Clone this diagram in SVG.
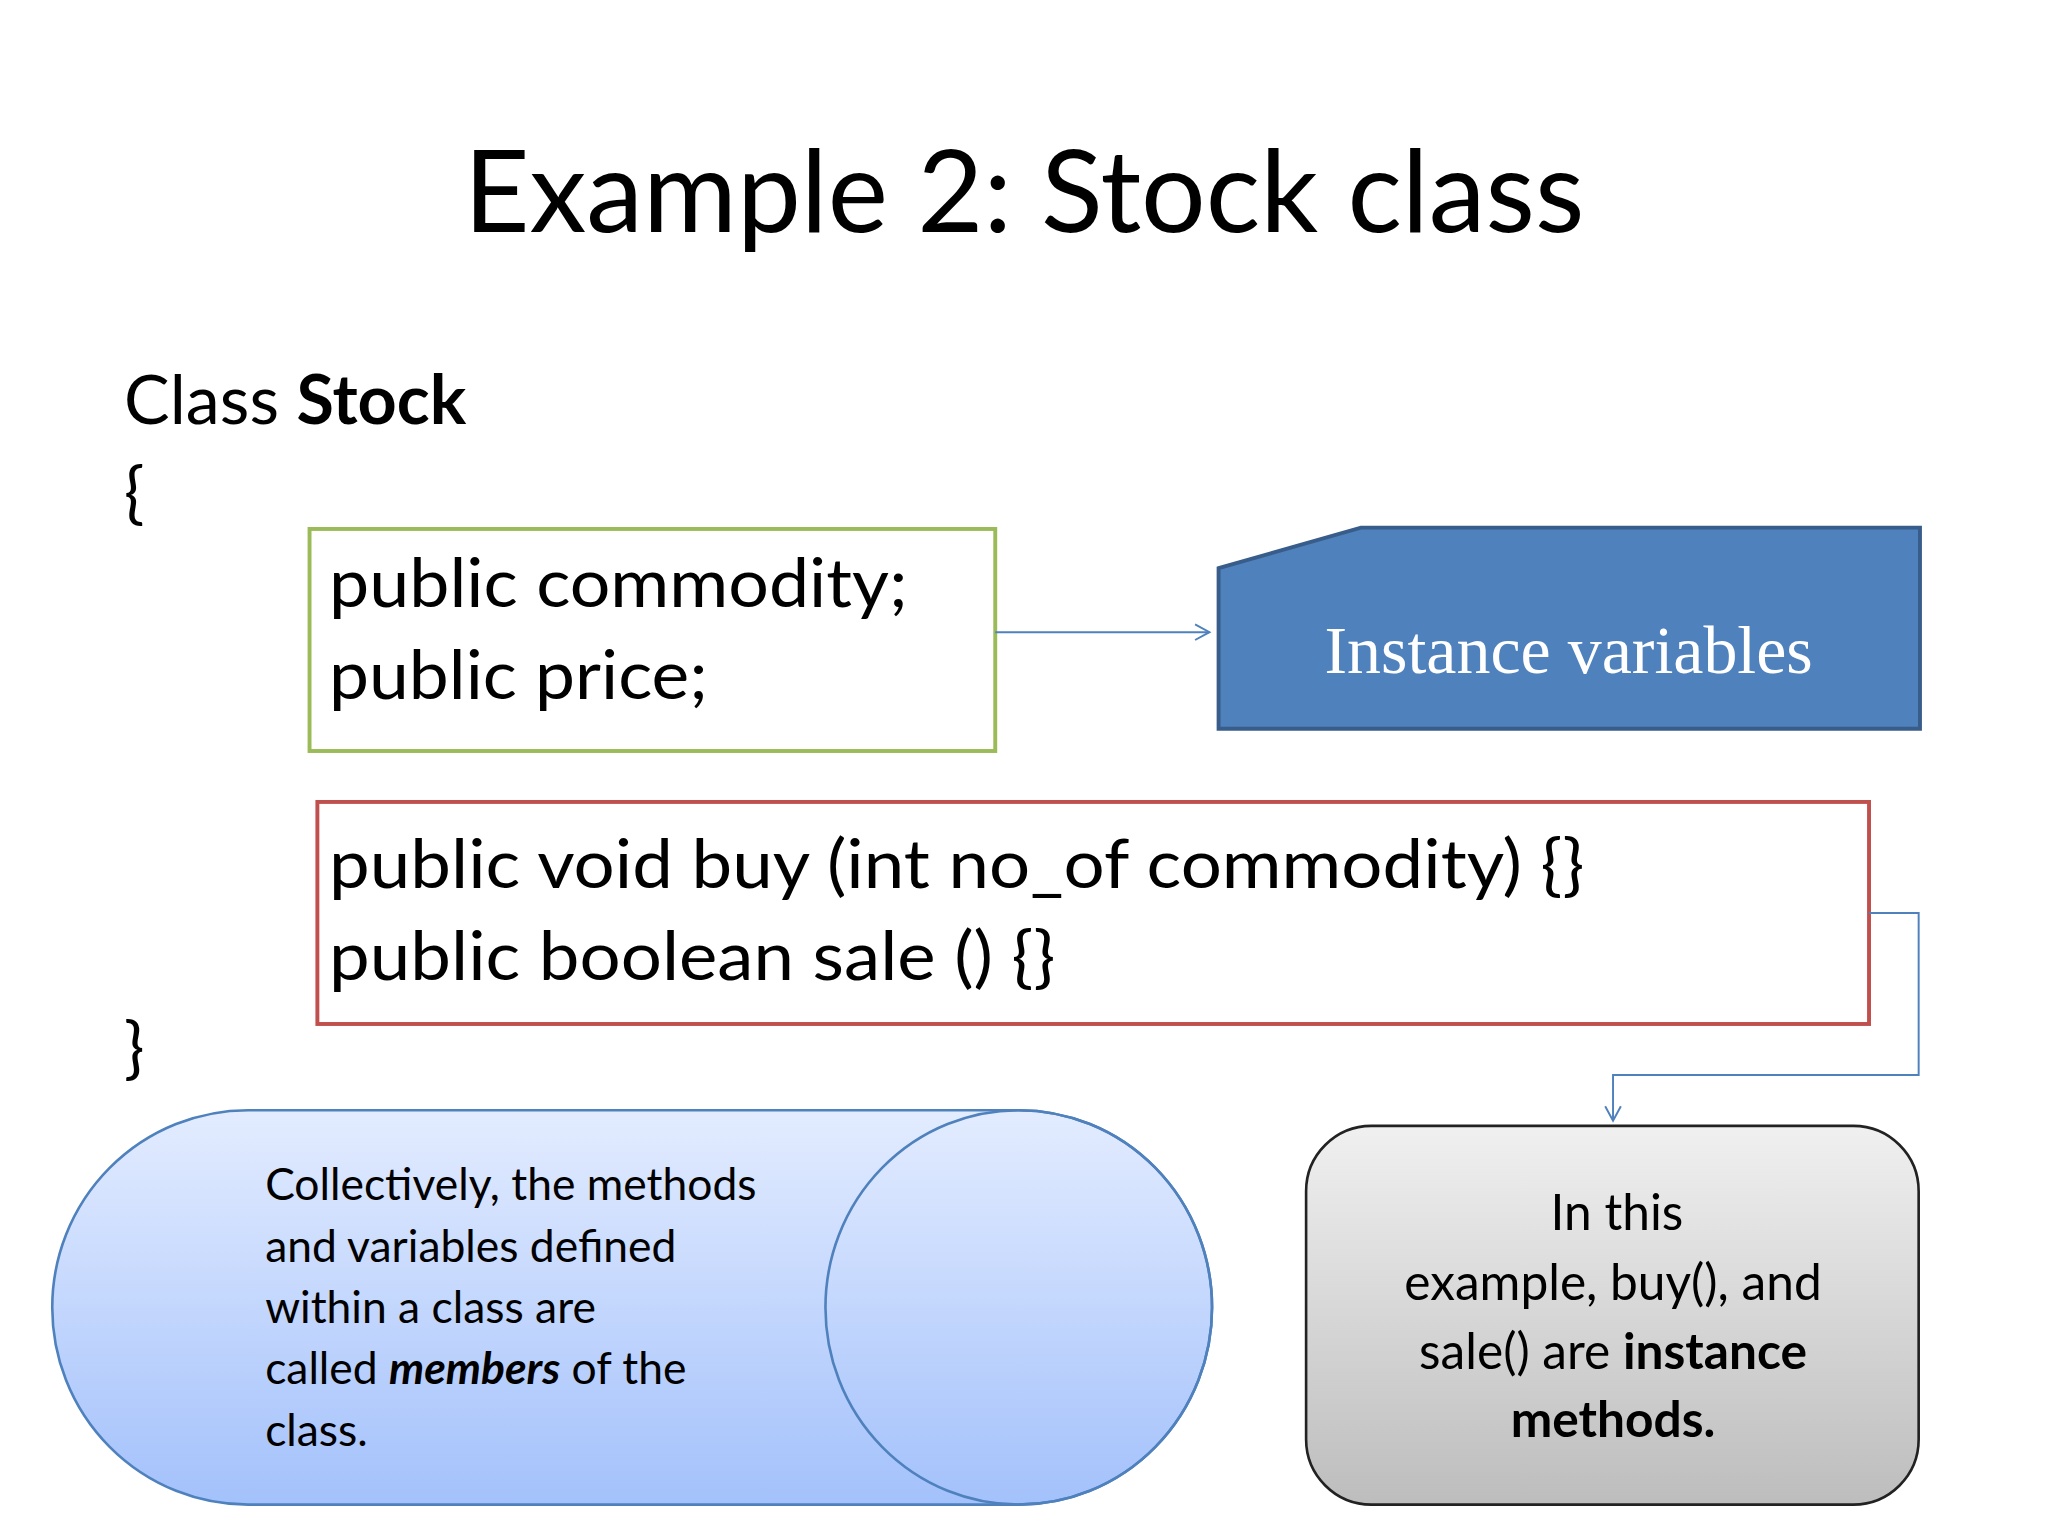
<svg xmlns="http://www.w3.org/2000/svg" width="2048" height="1536" viewBox="0 0 2048 1536">
<defs>
<style>
.t{font-family:Lato,"Open Sans","Liberation Sans",sans-serif;fill:#000}
.code{font-size:52px}
.note{font-size:34px}
.gn{font-size:38px}
</style>
<marker id="ah" markerWidth="14" markerHeight="14" refX="12" refY="7" orient="auto" markerUnits="userSpaceOnUse"><path d="M1,1 L12,7 L1,13" fill="none" stroke="#4F81BD" stroke-width="1.5"/></marker>
<linearGradient id="blueg" x1="0" y1="0" x2="0" y2="1"><stop offset="0" stop-color="#E3ECFF"/><stop offset="1" stop-color="#A3C1FB"/></linearGradient>
<linearGradient id="grayg" x1="0" y1="0" x2="0" y2="1"><stop offset="0" stop-color="#F0F0F0"/><stop offset="1" stop-color="#BDBDBD"/></linearGradient>
</defs>
<rect width="2048" height="1536" fill="#fff"/>
<g transform="scale(1.3061)">
<g id="title"><text class="t" x="355" y="178" font-size="88" textLength="858" lengthAdjust="spacingAndGlyphs">Example 2: Stock class</text></g>
<g id="classdecl">
<text class="t code" x="95" y="325" textLength="262" lengthAdjust="spacingAndGlyphs">Class <tspan font-weight="bold">Stock</tspan></text>
<text class="t code" x="95" y="395">{</text>
<text class="t code" x="95" y="820">}</text>
</g>
<g id="vars">
<rect x="237" y="405" width="525" height="170" fill="#fff" stroke="#9BBB59" stroke-width="3"/>
<text class="t code" x="252" y="465" textLength="443" lengthAdjust="spacingAndGlyphs">public commodity;</text>
<text class="t code" x="252" y="535" textLength="290" lengthAdjust="spacingAndGlyphs">public price;</text>
</g>
<g id="instvars">
<path d="M933,435 L1042,404 L1470,404 L1470,558 L933,558 Z" fill="#4F81BD" stroke="#385D8A" stroke-width="3"/>
<text x="1201" y="515" text-anchor="middle" font-family="'Liberation Serif',serif" font-size="52" fill="#fff">Instance variables</text>
</g>
<g id="methods">
<rect x="243" y="614" width="1188" height="170" fill="#fff" stroke="#C0504D" stroke-width="3"/>
<text class="t code" x="252" y="680" textLength="961" lengthAdjust="spacingAndGlyphs">public void buy (int no_of commodity) {}</text>
<text class="t code" x="252" y="750" textLength="556" lengthAdjust="spacingAndGlyphs">public boolean sale () {}</text>
</g>
<g id="members">
<path d="M780,850 L190,850 A150,151 0 0 0 190,1152 L780,1152 A148,151 0 0 0 780,850 Z" fill="url(#blueg)" stroke="#4F81BD" stroke-width="2"/>
<ellipse cx="780" cy="1001" rx="148" ry="151" fill="none" stroke="#4F81BD" stroke-width="2"/>
<text class="t note" x="203" y="919">Collectively, the methods</text>
<text class="t note" x="203" y="966">and variables defined</text>
<text class="t note" x="203" y="1013">within a class are</text>
<text class="t note" x="203" y="1060">called <tspan font-weight="bold" font-style="italic">members</tspan> of the</text>
<text class="t note" x="203" y="1107">class.</text>
</g>
<g id="instmethods">
<rect x="1000" y="862" width="469" height="290" rx="50" fill="url(#grayg)" stroke="#222" stroke-width="2"/>
<text class="t gn" x="1238" y="942" text-anchor="middle">In this</text>
<text class="t gn" x="1235" y="995" text-anchor="middle">example, buy(),  and</text>
<text class="t gn" x="1235" y="1048" text-anchor="middle">sale() are <tspan font-weight="bold">instance</tspan></text>
<text class="t gn" x="1235" y="1100" text-anchor="middle" font-weight="bold">methods.</text>
</g>
<g id="connectors" fill="none" stroke="#4F81BD" stroke-width="1.5">
<path d="M762,484 L926,484" marker-end="url(#ah)"/>
<path d="M1431,699 L1469,699 L1469,823 L1235,823 L1235,858" marker-end="url(#ah)"/>
</g>
</g>
</svg>
